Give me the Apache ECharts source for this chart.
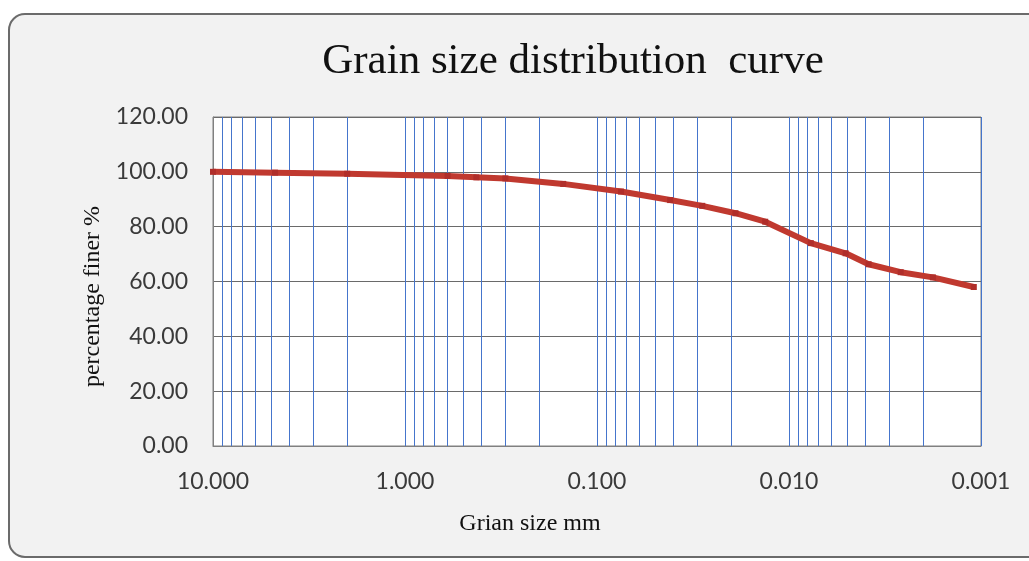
<!DOCTYPE html>
<html>
<head>
<meta charset="utf-8">
<script src="https://cdn.jsdelivr.net/npm/echarts@6/dist/echarts.min.js"></script>
<style>
  html, body { margin: 0; padding: 0; background: #ffffff; }
  #chart { width: 1029px; height: 561px; }
</style>
</head>
<body>
<div id="chart"></div>
<script>
// Sieve + hydrometer results: grain size (mm) and percentage finer (%)
const grainSize = [10, 4.75, 2.0, 0.6, 0.425, 0.3, 0.15, 0.075, 0.0416, 0.0283, 0.019, 0.0133,
                   0.0077, 0.00507, 0.00385, 0.00262, 0.00178, 0.00109];
const percentFiner = [100.0, 99.7, 99.3, 98.5, 98.0, 97.6, 95.6, 92.8, 89.7, 87.6, 84.9, 81.8,
                      74.0, 70.3, 66.3, 63.4, 61.5, 58.0];

// Axis ranges and the log-cycle minor gridline multipliers
const xRange = [0.001, 10];
const yTicks = [0, 20, 40, 60, 80, 100, 120];
const minorMultipliers = [2, 3, 4, 5, 6, 7, 8, 9];
const decades = [0.001, 0.01, 0.1, 1];

// each minor gridline is a segment from the bottom to the top of the value range
const minorLines = [];
decades.forEach(d => minorMultipliers.forEach(m => {
  const v = +(d * m).toPrecision(6);
  minorLines.push([{ coord: [v, yTicks[0]] }, { coord: [v, yTicks[yTicks.length - 1]] }]);
}));

const points = grainSize.map((s, i) => [s, percentFiner[i]]);

const gridBlue = '#4575cc';
const chart = echarts.init(document.getElementById('chart'), null, { renderer: 'canvas' });

chart.setOption({
  backgroundColor: '#ffffff',
  animation: false,
  graphic: {
    elements: [{
      type: 'rect',
      z: -100,
      shape: { x: 9, y: 14, width: 1040, height: 543, r: 16 },
      style: { fill: '#f2f2f2', stroke: '#6b6b6b', lineWidth: 2 }
    }]
  },
  title: {
    text: 'Grain size distribution  curve',
    left: 568,
    textAlign: 'center',
    top: 35,
    textStyle: { fontFamily: 'Liberation Serif', fontSize: 43, fontWeight: 'normal', color: '#111' }
  },
  grid: {
    left: 213, right: 48, top: 117, bottom: 115,
    show: true, backgroundColor: '#ffffff', borderColor: '#808080', borderWidth: 1
  },
  xAxis: {
    type: 'log',
    logBase: 10,
    min: xRange[0],
    max: xRange[1],
    inverse: true,
    name: 'Grian size mm',
    nameLocation: 'middle',
    nameGap: 66,
    nameTextStyle: { fontFamily: 'Liberation Serif', fontSize: 24, color: '#111', padding: [0, 134, 0, 0] },
    axisLine: { show: true, lineStyle: { color: '#808080' } },
    axisTick: { show: false },
    axisLabel: {
      margin: 24,
      fontFamily: 'Lato', fontSize: 23, color: '#3a3a3a',
      formatter: v => Number(v).toFixed(3)
    },
    splitLine: { show: true, lineStyle: { color: gridBlue, width: 1 } }
  },
  yAxis: {
    type: 'value',
    min: yTicks[0],
    max: yTicks[yTicks.length - 1],
    interval: 20,
    name: 'percentage finer %',
    nameLocation: 'middle',
    nameGap: 106,
    nameTextStyle: { fontFamily: 'Liberation Serif', fontSize: 24, color: '#111', padding: [0, 30, 0, 0] },
    axisLine: { show: true, lineStyle: { color: '#808080' } },
    axisTick: { show: false },
    axisLabel: {
      margin: 25,
      fontFamily: 'Lato', fontSize: 23, color: '#3a3a3a',
      formatter: v => Number(v).toFixed(2)
    },
    splitLine: { show: true, lineStyle: { color: '#6a6a6a', width: 1 } }
  },
  series: [
    {
      // carries the minor log-cycle gridlines beneath the curve
      type: 'line',
      data: points,
      z: 1,
      symbol: 'none',
      silent: true,
      lineStyle: { opacity: 0 },
      markLine: {
        silent: true,
        symbol: ['none', 'none'],
        label: { show: false },
        lineStyle: { color: gridBlue, width: 1, type: 'solid' },
        data: minorLines
      }
    },
    {
      name: 'Percentage finer',
      type: 'line',
      data: points,
      z: 5,
      symbol: 'rect',
      symbolSize: 6,
      itemStyle: { color: '#b02e2a' },
      lineStyle: { color: '#c0392f', width: 6 }
    }
  ]
});
</script>
</body>
</html>
